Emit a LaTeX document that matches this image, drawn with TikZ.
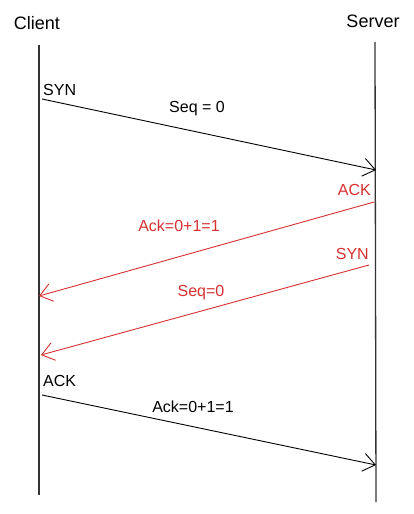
\documentclass[tikz,border=0pt]{standalone}
\usepackage{fontspec}
\setmainfont{Liberation Sans}
\usetikzlibrary{positioning, arrows.meta}
\definecolor{msgred}{RGB}{214,48,49}

\begin{document}
\begin{tikzpicture}[x=1pt, y=-1pt, font=\fontsize{16}{18}\selectfont,
  life/.style={draw=black!80, line width=1.3pt},
  msg/.style={-{Straight Barb[length=12pt, width=18pt, line width=0.9pt]}, line width=0.9pt},
  lbl/.style={inner sep=1pt}]
  \useasboundingbox (0,0) rectangle (414,514);
  % --- participants ---
  \node[lbl, font=\fontsize{18}{20}\selectfont] (client) at (37,23) {Client};
  \node[lbl, font=\fontsize{18}{20}\selectfont] (server) at (373,21) {Server};
  \coordinate (ctop) at (39,45);  \coordinate (cbot) at (39,495);
  \coordinate (stop) at (375,42); \coordinate (sbot) at (376,502);
  \draw[life] (ctop) -- (cbot);
  \draw[life] (stop) -- (sbot);
  % --- message end points ---
  \coordinate (m1a) at (42,99);   \coordinate (m1b) at (376,170);
  \coordinate (m2a) at (374,202); \coordinate (m2b) at (39,296);
  \coordinate (m3a) at (369,265); \coordinate (m3b) at (41,355);
  \coordinate (m4a) at (42,395);  \coordinate (m4b) at (376,465);
  % --- SYN (client -> server) ---
  \draw[msg] (m1a) -- (m1b);
  \node[lbl, anchor=west] (syn1) at (42,90) {SYN};
  \node[lbl] (seq1) at (197,109) {Seq = 0};
  % --- ACK + SYN (server -> client) ---
  \draw[msg, msgred] (m2a) -- (m2b);
  \node[lbl, anchor=east, msgred] (ack2) at (372,190) {ACK};
  \node[lbl, msgred] (ackn2) at (179,226) {Ack=0+1=1};
  \draw[msg, msgred] (m3a) -- (m3b);
  \node[lbl, anchor=east, msgred] (syn2) at (370,254) {SYN};
  \node[lbl, msgred] (seq2) at (201,293) {Seq=0};
  % --- ACK (client -> server) ---
  \draw[msg] (m4a) -- (m4b);
  \node[lbl, anchor=west] (ack3) at (42,381) {ACK};
  \node[lbl] (ackn3) at (193,407) {Ack=0+1=1};
\end{tikzpicture}
\end{document}
